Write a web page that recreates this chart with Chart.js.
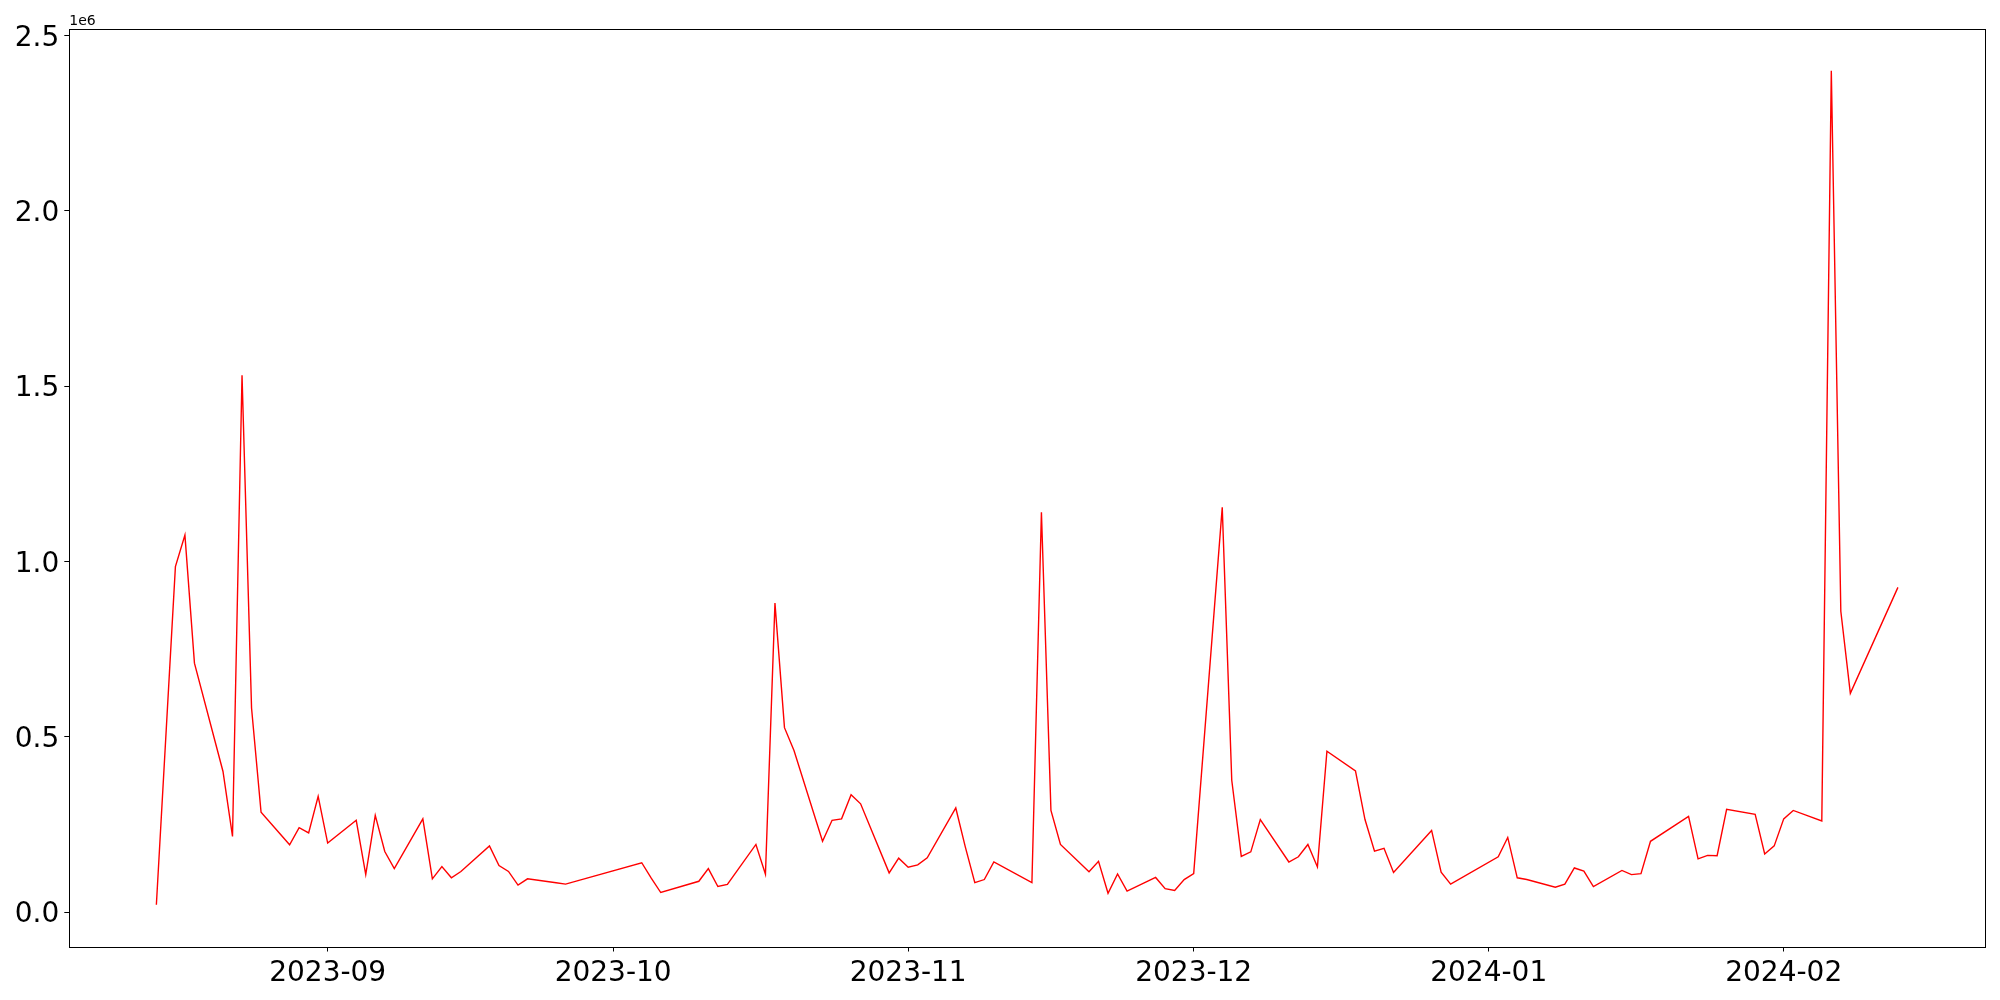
<!DOCTYPE html>
<html>
<head>
<meta charset="utf-8">
<script src="https://cdn.jsdelivr.net/npm/chart.js@4.4.1/dist/chart.umd.min.js"></script>
<style>
  body { margin: 0; background: #fff; }
  #wrap { width: 2000px; height: 1000px; }
</style>
</head>
<body>
<div id="wrap"><canvas id="chart" width="2000" height="1000"></canvas></div>
<script>
// daily values (gaps = no data that day)
const dates = [
  '2023-08-14','2023-08-16','2023-08-17','2023-08-18','2023-08-21','2023-08-22','2023-08-23','2023-08-24','2023-08-25',
  '2023-08-28','2023-08-29','2023-08-30','2023-08-31','2023-09-01','2023-09-04','2023-09-05','2023-09-06','2023-09-07',
  '2023-09-08','2023-09-11','2023-09-12','2023-09-13','2023-09-14','2023-09-15','2023-09-18','2023-09-19','2023-09-20',
  '2023-09-21','2023-09-22','2023-09-25','2023-09-26','2023-10-04','2023-10-05','2023-10-06','2023-10-10','2023-10-11',
  '2023-10-12','2023-10-13','2023-10-16','2023-10-17','2023-10-18','2023-10-19','2023-10-20','2023-10-23','2023-10-24',
  '2023-10-25','2023-10-26','2023-10-27','2023-10-30','2023-10-31','2023-11-01','2023-11-02','2023-11-03','2023-11-06',
  '2023-11-07','2023-11-08','2023-11-09','2023-11-10','2023-11-14','2023-11-15','2023-11-16','2023-11-17','2023-11-20',
  '2023-11-21','2023-11-22','2023-11-23','2023-11-24','2023-11-27','2023-11-28','2023-11-29','2023-11-30','2023-12-01',
  '2023-12-04','2023-12-05','2023-12-06','2023-12-07','2023-12-08','2023-12-11','2023-12-12','2023-12-13','2023-12-14',
  '2023-12-15','2023-12-18','2023-12-19','2023-12-20','2023-12-21','2023-12-22','2023-12-26','2023-12-27','2023-12-28',
  '2024-01-02','2024-01-03','2024-01-04','2024-01-05','2024-01-08','2024-01-09','2024-01-10','2024-01-11','2024-01-12',
  '2024-01-15','2024-01-16','2024-01-17','2024-01-18','2024-01-22','2024-01-23','2024-01-24','2024-01-25','2024-01-26',
  '2024-01-29','2024-01-30','2024-01-31','2024-02-01','2024-02-02','2024-02-05','2024-02-06','2024-02-07','2024-02-08',
  '2024-02-13'
];
const values = [
  21000, 985000, 1075000, 710000, 401000, 216000, 1531000, 582000, 285000,
  192000, 241000, 226000, 330000, 197000, 262000, 107000, 276000, 173000,
  124000, 266000, 95000, 130000, 98000, 116000, 189000, 133000, 116000,
  77000, 95000, 84000, 80000, 141000, 97000, 56000, 88000, 124000,
  73000, 79000, 193000, 108000, 881000, 526000, 461000, 202000, 262000,
  266000, 335000, 309000, 112000, 154000, 128000, 135000, 155000, 297000,
  186000, 84000, 93000, 143000, 84000, 1140000, 290000, 193000, 115000,
  145000, 54000, 109000, 60000, 99000, 67000, 62000, 93000, 110000,
  1154000, 376000, 159000, 172000, 264000, 143000, 158000, 193000, 129000,
  459000, 403000, 264000, 174000, 182000, 113000, 233000, 114000, 80000,
  158000, 213000, 98000, 93000, 71000, 80000, 126000, 117000, 73000,
  119000, 107000, 110000, 202000, 273000, 152000, 162000, 161000, 293000,
  279000, 166000, 189000, 266000, 290000, 260000, 2399000, 858000, 624000,
  926000
];
const monthTicks = ['2023-09','2023-10','2023-11','2023-12','2024-01','2024-02'];
const yTicks = [0, 500000, 1000000, 1500000, 2000000, 2500000];

function dayNum(s) {
  let p = s.split('-');
  return Date.UTC(+p[0], +p[1] - 1, +(p[2] || 1)) / 86400000;
}

let xs = dates.map(dayNum);
let points = xs.map((x, i) => ({x: x, y: values[i]}));

// matplotlib style 5% margins
let xMin = Math.min(...xs), xMax = Math.max(...xs);
let yMin = Math.min(...values), yMax = Math.max(...values);
let xPad = (xMax - xMin) * 0.05, yPad = (yMax - yMin) * 0.05;

const frame = {
  id: 'frame',
  afterDraw(chart) {
    let ctx = chart.ctx, a = chart.chartArea;
    ctx.save();
    ctx.strokeStyle = '#000';
    ctx.lineWidth = 1;
    ctx.strokeRect(Math.round(a.left) + 0.5, Math.round(a.top) + 0.5,
                   Math.round(a.right - a.left), Math.round(a.bottom - a.top));
    ctx.fillStyle = '#000';
    ctx.font = '14px "DejaVu Sans"';
    ctx.textAlign = 'left';
    ctx.textBaseline = 'bottom';
    ctx.fillText('1e6', a.left, a.top - 1);
    ctx.restore();
  }
};

new Chart('chart', {
  type: 'line',
  data: {
    datasets: [{
      data: points,
      borderColor: 'red',
      borderWidth: 1.4,
      pointRadius: 0,
      tension: 0,
      fill: false
    }]
  },
  options: {
    responsive: false,
    animation: false,
    layout: { padding: { top: 29, right: 15, left: 0, bottom: 0 } },
    plugins: { legend: { display: false }, tooltip: { enabled: false } },
    scales: {
      x: {
        type: 'linear',
        min: xMin - xPad,
        max: xMax + xPad,
        afterBuildTicks: (scale) => { scale.ticks = monthTicks.map(m => ({ value: dayNum(m) })); },
        afterFit: (scale) => { scale.height = 53.5; },
        ticks: {
          autoSkip: false,
          maxRotation: 0,
          padding: 5,
          color: '#000',
          font: { family: 'DejaVu Sans', size: 28 },
          callback: (v) => {
            let i = monthTicks.findIndex(m => dayNum(m) === v);
            return i >= 0 ? monthTicks[i] : '';
          }
        },
        grid: { drawOnChartArea: false, drawTicks: true, tickLength: 5, color: '#000', lineWidth: 1 },
        border: { display: false }
      },
      y: {
        min: yMin - yPad,
        max: yMax + yPad,
        afterBuildTicks: (scale) => { scale.ticks = yTicks.map(v => ({ value: v })); },
        afterFit: (scale) => { scale.width = 69.3; },
        ticks: {
          padding: 5,
          labelOffset: 3,
          color: '#000',
          font: { family: 'DejaVu Sans', size: 28 },
          callback: (v) => (v / 1e6).toFixed(1)
        },
        grid: { drawOnChartArea: false, drawTicks: true, tickLength: 5, color: '#000', lineWidth: 1 },
        border: { display: false }
      }
    }
  },
  plugins: [frame]
});
</script>
</body>
</html>
